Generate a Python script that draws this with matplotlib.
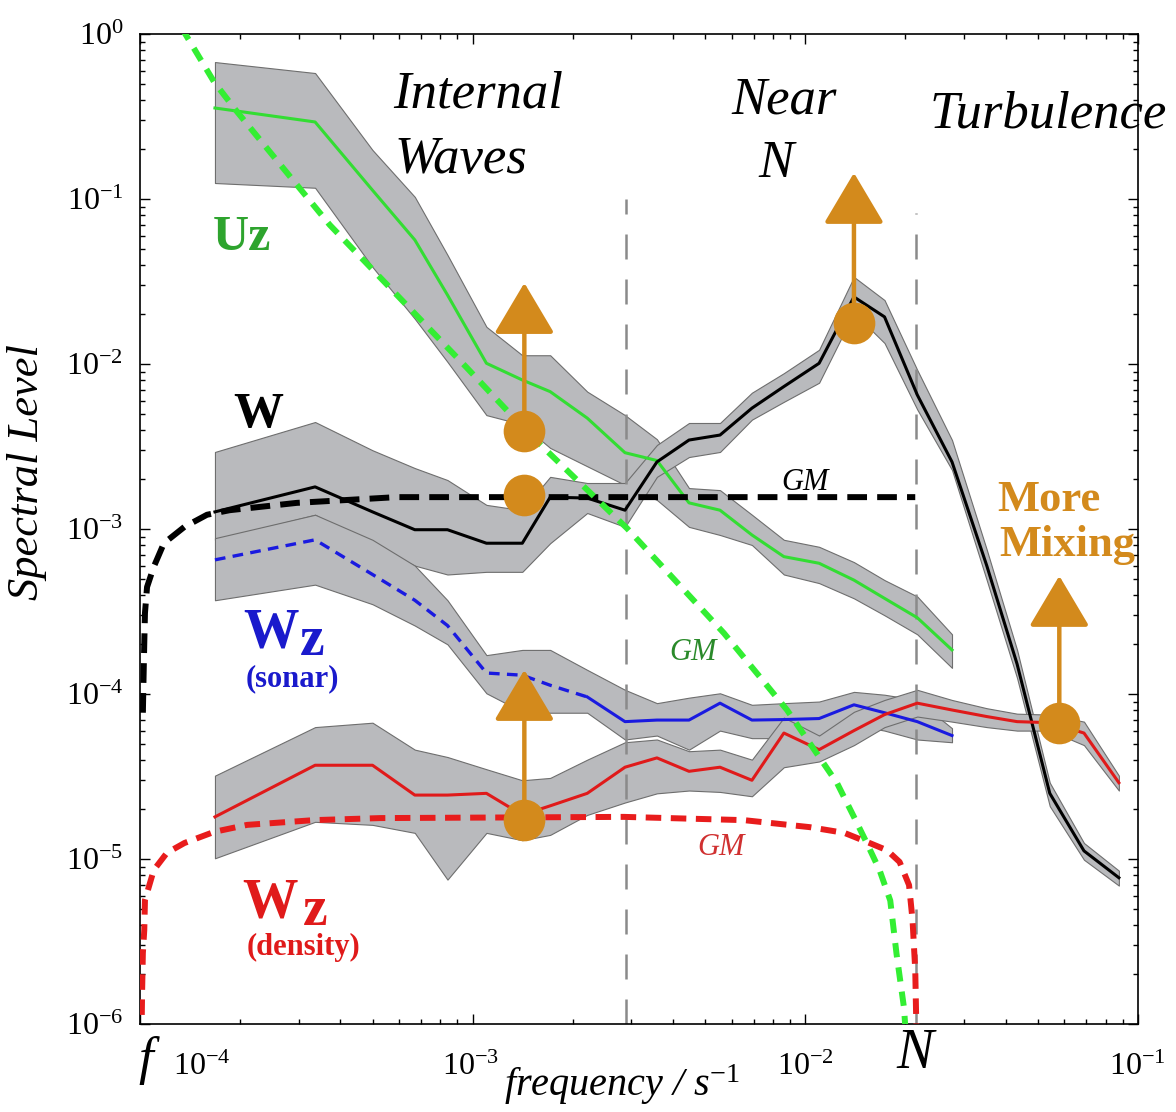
import matplotlib
matplotlib.use('Agg')
import matplotlib.pyplot as plt
import numpy as np
from matplotlib.ticker import FuncFormatter, LogLocator, NullFormatter

plt.rcParams['font.family'] = ['Liberation Serif', 'DejaVu Serif']
plt.rcParams['mathtext.fontset'] = 'custom'
plt.rcParams['mathtext.rm'] = 'Liberation Serif'
plt.rcParams['mathtext.it'] = 'Liberation Serif:italic'
plt.rcParams['mathtext.bf'] = 'Liberation Serif:bold'

# frequency bins / s^-1
freq = [1.68e-4, 3.36e-4, 5.0e-4, 6.7e-4, 8.4e-4, 1.1e-3, 1.41e-3, 1.71e-3, 2.21e-3, 2.87e-3,
        3.58e-3, 4.47e-3, 5.54e-3, 6.91e-3, 8.62e-3, 1.10e-2, 1.40e-2, 1.73e-2, 2.17e-2, 2.76e-2,
        3.51e-2, 4.33e-2, 5.43e-2, 6.88e-2, 8.76e-2]

# Uz (shear) spectrum and its confidence band
uz = [0.356, 0.293, 0.113, 0.0565, 0.0262, 0.0101, 8.0e-3, 6.8e-3, 4.7e-3, 2.9e-3,
      2.6e-3, 1.44e-3, 1.30e-3, 9.2e-4, 6.8e-4, 6.2e-4, 4.9e-4, 3.8e-4, 2.9e-4, 1.85e-4]
uz_hi = [0.676, 0.580, 0.198, 0.103, 0.0458, 0.0168, 0.0113, 0.0113, 6.8e-3, 4.9e-3,
         3.5e-3, 1.77e-3, 1.72e-3, 1.22e-3, 8.6e-4, 7.8e-4, 6.3e-4, 4.9e-4, 3.9e-4, 2.3e-4]
uz_lo = [0.125, 0.117, 0.0387, 0.0188, 0.0103, 4.9e-3, 4.3e-3, 3.1e-3, 2.4e-3, 1.85e-3,
         1.50e-3, 1.03e-3, 9.2e-4, 8.0e-4, 5.3e-4, 4.7e-4, 3.8e-4, 3.0e-4, 2.3e-4, 1.44e-4]

# W (vertical velocity) spectrum
w = [1.27e-3, 1.80e-3, 1.27e-3, 9.9e-4, 9.9e-4, 8.2e-4, 8.2e-4, 1.56e-3, 1.54e-3, 1.30e-3,
     2.55e-3, 3.46e-3, 3.71e-3, 5.4e-3, 7.3e-3, 1.01e-2, 2.55e-2, 1.93e-2, 6.5e-3, 2.55e-3,
     6.0e-4, 1.52e-4, 2.5e-5, 1.12e-5, 7.7e-6]
w_hi = [2.93e-3, 4.45e-3, 3.0e-3, 2.34e-3, 1.98e-3, 1.40e-3, 1.30e-3, 2.07e-3, 1.90e-3, 1.90e-3,
        3.23e-3, 4.39e-3, 4.39e-3, 6.7e-3, 8.8e-3, 1.22e-2, 3.37e-2, 2.44e-2, 9.2e-3, 3.46e-3,
        7.5e-4, 1.85e-4, 2.9e-5, 1.25e-5, 8.5e-6]
w_lo = [8.6e-4, 1.22e-3, 8.0e-4, 6.0e-4, 5.3e-4, 5.5e-4, 5.5e-4, 8.2e-4, 1.25e-3, 1.03e-3,
        2.07e-3, 2.73e-3, 2.93e-3, 4.6e-3, 5.9e-3, 7.7e-3, 2.04e-2, 1.34e-2, 5.3e-3, 2.28e-3,
        4.9e-4, 1.25e-4, 2.09e-5, 9.9e-6, 6.9e-6]

# Wz from sonar
wz_sonar = [6.5e-4, 8.6e-4, 5.3e-4, 3.7e-4, 2.6e-4, 1.34e-4, 1.30e-4, 1.13e-4, 9.6e-5, 6.8e-5,
            6.95e-5, 6.95e-5, 8.8e-5, 6.95e-5, 7.0e-5, 7.1e-5, 8.6e-5, 7.7e-5, 6.8e-5, 5.6e-5]
wz_sonar_hi = [8.8e-4, 1.22e-3, 8.6e-4, 6.0e-4, 3.7e-4, 1.72e-4, 1.85e-4, 1.85e-4, 1.40e-4, 1.06e-4,
               8.8e-5, 9.5e-5, 1.01e-4, 8.6e-5, 8.8e-5, 9.0e-5, 1.03e-4, 9.9e-5, 9.2e-5, 6.2e-5]
wz_sonar_lo = [3.7e-4, 4.6e-4, 3.5e-4, 2.6e-4, 2.0e-4, 1.01e-4, 7.8e-5, 7.7e-5, 7.7e-5, 5.3e-5,
               5.6e-5, 4.6e-5, 6.0e-5, 5.4e-5, 5.4e-5, 5.6e-5, 6.5e-5, 6.0e-5, 5.3e-5, 5.1e-5]

# Wz from density
wz_dens = [1.80e-5, 3.7e-5, 3.7e-5, 2.44e-5, 2.44e-5, 2.5e-5, 1.85e-5, 2.1e-5, 2.5e-5, 3.6e-5,
           4.1e-5, 3.4e-5, 3.6e-5, 3.0e-5, 5.8e-5, 4.6e-5, 6.0e-5, 7.5e-5, 8.8e-5, 8.0e-5,
           7.3e-5, 6.8e-5, 6.7e-5, 5.8e-5, 2.9e-5]
wz_dens_hi = [3.2e-5, 6.3e-5, 6.7e-5, 4.6e-5, 4.15e-5, 3.5e-5, 3.0e-5, 3.1e-5, 4.0e-5, 5.1e-5,
              5.3e-5, 4.5e-5, 4.6e-5, 4.0e-5, 7.2e-5, 5.6e-5, 7.8e-5, 9.2e-5, 1.06e-4, 9.2e-5,
              8.2e-5, 7.6e-5, 7.5e-5, 6.8e-5, 3.2e-5]
wz_dens_lo = [1.01e-5, 1.68e-5, 1.61e-5, 1.44e-5, 7.5e-6, 1.44e-5, 1.30e-5, 1.40e-5, 1.85e-5, 2.2e-5,
              2.5e-5, 2.6e-5, 2.55e-5, 2.4e-5, 3.6e-5, 3.9e-5, 4.9e-5, 6.3e-5, 7.3e-5, 6.8e-5,
              6.3e-5, 6.0e-5, 6.0e-5, 4.9e-5, 2.6e-5]

# Garrett-Munk reference curves
gm_w_f = [1.02e-4, 1.025e-4, 1.03e-4, 1.035e-4, 1.05e-4, 1.10e-4, 1.18e-4, 1.36e-4, 1.59e-4,
          1.86e-4, 2.96e-4, 5.9e-4, 2.14e-2]
gm_w = [7.7e-5, 1.27e-4, 2.04e-4, 3.1e-4, 4.45e-4, 5.9e-4, 8.2e-4, 1.03e-3, 1.22e-3,
        1.30e-3, 1.44e-3, 1.56e-3, 1.56e-3]
gm_uz_f = [1.33e-4, 1.67e-4, 1.96e-4, 2.96e-4, 3.72e-4, 5.92e-4, 9.6e-4, 1.46e-3, 2.06e-3,
           2.91e-3, 5.69e-3, 7.30e-3, 8.81e-3, 1.03e-2, 1.245e-2, 1.40e-2, 1.53e-2, 1.67e-2,
           1.80e-2, 1.88e-2, 1.98e-2, 2.01e-2]
gm_uz = [1.1, 0.512, 0.337, 0.122, 0.0696, 0.0262, 9.5e-3, 3.87e-3, 1.98e-3,
         1.01e-3, 2.34e-4, 1.27e-4, 8.0e-5, 5.05e-5, 2.89e-5, 1.80e-5, 1.25e-5, 8.6e-6,
         5.6e-6, 2.66e-6, 1.25e-6, 8.0e-7]
gm_rho_f = [1.01e-4, 1.015e-4, 1.02e-4, 1.03e-4, 1.035e-4, 1.10e-4, 1.205e-4, 1.36e-4, 1.67e-4,
            2.10e-4, 3.33e-4, 5.27e-4, 2.85e-3, 6.54e-3, 1.03e-2, 1.31e-2, 1.56e-2, 1.76e-2,
            1.92e-2, 2.05e-2, 2.10e-2, 2.14e-2, 2.16e-2]
gm_rho = [8.0e-7, 1.61e-6, 2.69e-6, 3.71e-6, 5.64e-6, 8.57e-6, 1.09e-5, 1.25e-5, 1.46e-5,
          1.61e-5, 1.72e-5, 1.77e-5, 1.80e-5, 1.72e-5, 1.56e-5, 1.44e-5, 1.25e-5, 1.13e-5,
          9.6e-6, 6.95e-6, 4.27e-6, 2.12e-6, 8.0e-7]

# regime boundaries and "more mixing" markers
f_bound = [2.9e-3, 2.15e-2]
bound_top = [0.1, 0.082]
mix_f = [1.43e-3, 1.43e-3, 1.43e-3, 1.40e-2, 5.8e-2]
mix_v = [3.9e-3, 1.6e-3, 1.72e-5, 1.77e-2, 6.67e-5]
mix_tip = [0.031, None, 1.40e-4, 0.144, 5.2e-4]

W_PX, H_PX = 1176, 1112
ORANGE = '#d38a1c'
BAND = '#b9babd'
EDGE = '#6e6e6e'


def fx(px):
    return px / W_PX


def fy(py):
    return 1 - py / H_PX


fig = plt.figure(figsize=(W_PX / 100, H_PX / 100), dpi=100)
ax = fig.add_axes([fx(140), fy(1024), (1138 - 140) / W_PX, (1024 - 34) / H_PX])
ax.set_xscale('log')
ax.set_yscale('log')
ax.set_xlim(1e-4, 1e-1)
ax.set_ylim(1e-6, 1)

# confidence bands
n20 = 20
ax.fill_between(freq[:n20], uz_lo, uz_hi, facecolor=BAND, edgecolor=EDGE, lw=0.8, zorder=1)
ax.fill_between(freq, w_lo, w_hi, facecolor=BAND, edgecolor=EDGE, lw=0.8, zorder=1)
ax.fill_between(freq[:n20], wz_sonar_lo, wz_sonar_hi, facecolor=BAND, edgecolor=EDGE, lw=0.8, zorder=1)
ax.fill_between(freq, wz_dens_lo, wz_dens_hi, facecolor=BAND, edgecolor=EDGE, lw=0.8, zorder=1)

# regime boundaries
for fb, top in zip(f_bound, bound_top):
    ax.plot([fb, fb], [1e-6, top], color='#8a8a8a', lw=1.8, ls=(0, (10, 8)), zorder=2)

# measured spectra
ax.plot(freq[:n20], uz, color='#33dd33', lw=2.2, zorder=3)
ax.plot(freq, w, color='black', lw=2.2, zorder=3)
ax.plot(freq[:9], wz_sonar[:9], color='#1a1ae0', lw=2.4, ls=(0, (3.2, 2.2)), zorder=3)
ax.plot(freq[8:n20], wz_sonar[8:], color='#1a1ae0', lw=2.2, zorder=3)
ax.plot(freq, wz_dens, color='#e01a1a', lw=2.2, zorder=3)

# GM model curves
ax.plot(gm_w_f, gm_w, color='black', lw=4.3, ls=(0, (3.3, 1.7)), zorder=4)
ax.plot(gm_uz_f, gm_uz, color='#33ee33', lw=4.3, ls=(0, (2.4, 1.7)), zorder=4)
ax.plot(gm_rho_f, gm_rho, color='#e81c1c', lw=4.3, ls=(0, (2.6, 1.6)), zorder=4)

# arrows and dots
for f0, v0, tip in zip(mix_f, mix_v, mix_tip):
    if tip is not None:
        ax.annotate('', xy=(f0, tip), xytext=(f0, v0),
                    arrowprops=dict(arrowstyle='-|>,head_length=1.6,head_width=0.95',
                                    mutation_scale=20, lw=3.2, color=ORANGE,
                                    shrinkA=0, shrinkB=0), zorder=5)
    ax.plot(f0, v0, 'o', ms=30, color=ORANGE, mec='none', zorder=6)

# axes styling
ax.tick_params(which='both', direction='in', top=True, right=True, width=1.0)
ax.tick_params(which='major', length=7.5)
ax.tick_params(which='minor', length=3.6)
ax.tick_params(axis='y', which='major', labelsize=23, pad=12)
ax.xaxis.set_major_locator(LogLocator(base=10, numticks=10))
ax.xaxis.set_minor_locator(LogLocator(base=10, subs=np.arange(2, 10), numticks=20))
ax.yaxis.set_major_locator(LogLocator(base=10, numticks=10))
ax.yaxis.set_minor_locator(LogLocator(base=10, subs=np.arange(2, 10), numticks=20))
ax.yaxis.set_major_formatter(FuncFormatter(lambda v, _: r'$\mathregular{10^{%d}}$' % round(np.log10(v))))
ax.yaxis.set_minor_formatter(NullFormatter())
ax.xaxis.set_major_formatter(NullFormatter())
ax.xaxis.set_minor_formatter(NullFormatter())
for sp in ax.spines.values():
    sp.set_linewidth(1.2)

# x tick labels written by hand (f and N take extra room)
for lab, px in [(r'$\mathregular{10^{-4}}$', 202), (r'$\mathregular{10^{-3}}$', 471),
                (r'$\mathregular{10^{-2}}$', 805), (r'$\mathregular{10^{-1}}$', 1137)]:
    fig.text(fx(px), fy(1075), lab, fontsize=23, ha='center', va='baseline')
fig.text(fx(146), fy(1074), 'f', fontsize=38, style='italic', ha='center', va='baseline')
fig.text(fx(915), fy(1068), 'N', fontsize=40, style='italic', ha='center', va='baseline')

fig.text(fx(622), fy(1096), r'frequency / s$^{-1}$', fontsize=29, style='italic',
         ha='center', va='baseline')
fig.text(fx(27), fy(472), 'Spectral Level', fontsize=32, style='italic', rotation=90,
         ha='center', va='center')

# regime names
fig.text(fx(393), fy(107), 'Internal', fontsize=38, style='italic', ha='left', va='baseline')
fig.text(fx(395), fy(173), 'Waves', fontsize=38, style='italic', ha='left', va='baseline')
fig.text(fx(784), fy(113), 'Near', fontsize=38, style='italic', ha='center', va='baseline')
fig.text(fx(776), fy(177), 'N', fontsize=38, style='italic', ha='center', va='baseline')
fig.text(fx(1048), fy(127), 'Turbulence', fontsize=38, style='italic', ha='center', va='baseline')

# series labels
fig.text(fx(213), fy(250), 'Uz', fontsize=36, weight='bold', color='#2ea42e', ha='left', va='baseline')
fig.text(fx(233), fy(427), 'W', fontsize=36, weight='bold', color='black', ha='left', va='baseline')
fig.text(fx(243), fy(647), 'W', fontsize=40, weight='bold', color='#1a1acc', ha='left', va='baseline')
fig.text(fx(300), fy(655), 'z', fontsize=40, weight='bold', color='#1a1acc', ha='left', va='baseline')
fig.text(fx(292), fy(686), '(sonar)', fontsize=22, weight='bold', color='#1a1acc', ha='center', va='baseline')
fig.text(fx(242), fy(918), 'W', fontsize=40, weight='bold', color='#e01a1a', ha='left', va='baseline')
fig.text(fx(303), fy(925), 'z', fontsize=40, weight='bold', color='#e01a1a', ha='left', va='baseline')
fig.text(fx(303), fy(955), '(density)', fontsize=22, weight='bold', color='#e01a1a', ha='center', va='baseline')

fig.text(fx(805), fy(490), 'GM', fontsize=22, style='italic', color='black', ha='center', va='baseline')
fig.text(fx(693), fy(660), 'GM', fontsize=22, style='italic', color='#2a8a2a', ha='center', va='baseline')
fig.text(fx(721), fy(855), 'GM', fontsize=22, style='italic', color='#d03030', ha='center', va='baseline')

fig.text(fx(1049), fy(511), 'More', fontsize=32, weight='bold', color=ORANGE, ha='center', va='baseline')
fig.text(fx(1067), fy(556), 'Mixing', fontsize=32, weight='bold', color=ORANGE, ha='center', va='baseline')

fig.savefig('out.png', dpi=100)
